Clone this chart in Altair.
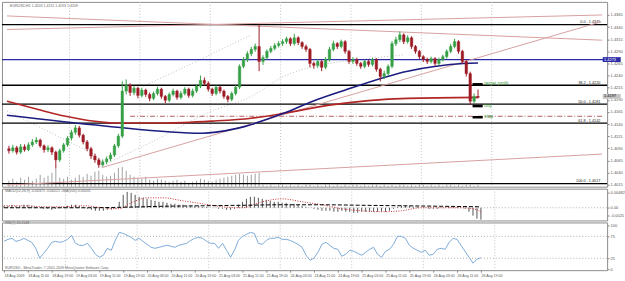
import altair as alt
import pandas as pd

# ---------------- data ----------------
first_open = 1.4089
closes = [1.4085, 1.4091, 1.4082, 1.4093, 1.4087, 1.4097, 1.4103, 1.4107, 1.4095, 1.4087,
          1.4091, 1.4082, 1.4066, 1.4085, 1.4097, 1.4111, 1.4123, 1.4132, 1.4117, 1.4103,
          1.4089, 1.4074, 1.4066, 1.4056, 1.4062, 1.4068, 1.4076, 1.4095, 1.4115, 1.4208,
          1.4220, 1.4205, 1.4214, 1.4199, 1.4210, 1.4201, 1.4193, 1.4203, 1.4212, 1.4197,
          1.4189, 1.4201, 1.4208, 1.4195, 1.4203, 1.4212, 1.4199, 1.4208, 1.4218, 1.4230,
          1.4224, 1.4212, 1.4203, 1.4216, 1.4208, 1.4197, 1.4191, 1.4203, 1.4216, 1.4259,
          1.4273, 1.4285, 1.4294, 1.4300, 1.4269, 1.4277, 1.4290, 1.4296, 1.4302, 1.4306,
          1.4310, 1.4316, 1.4306, 1.4318, 1.4308, 1.4300, 1.4294, 1.4265, 1.4261, 1.4269,
          1.4257, 1.4273, 1.4294, 1.4306, 1.4300, 1.4310, 1.4290, 1.4269, 1.4273, 1.4265,
          1.4259, 1.4269, 1.4263, 1.4273, 1.4253, 1.4238, 1.4244, 1.4259, 1.4306, 1.4314,
          1.4324, 1.4310, 1.4318, 1.4300, 1.4290, 1.4279, 1.4273, 1.4269, 1.4275, 1.4265,
          1.4273, 1.4279, 1.4290, 1.4300, 1.4310, 1.4290, 1.4269, 1.4244, 1.4187, 1.4197,
          1.4195]
highs = [1.4095, 1.4097, 1.4095, 1.4099, 1.4098, 1.4102, 1.4109, 1.4113, 1.4110, 1.4098,
         1.4096, 1.4094, 1.4085, 1.4089, 1.4101, 1.4115, 1.4128, 1.4138, 1.4136, 1.4120,
         1.4107, 1.4093, 1.4079, 1.4070, 1.4067, 1.4073, 1.4081, 1.4099, 1.4120, 1.4228,
         1.4232, 1.4224, 1.4219, 1.4217, 1.4215, 1.4213, 1.4205, 1.4207, 1.4217, 1.4215,
         1.4200, 1.4205, 1.4213, 1.4211, 1.4208, 1.4216, 1.4215, 1.4213, 1.4222, 1.4240,
         1.4236, 1.4228, 1.4215, 1.4220, 1.4219, 1.4211, 1.4200, 1.4207, 1.4220, 1.4263,
         1.4278, 1.4290, 1.4299, 1.4306, 1.4345, 1.4282, 1.4294, 1.4301, 1.4307, 1.4311,
         1.4315, 1.4320, 1.4319, 1.4326, 1.4321, 1.4311, 1.4304, 1.4297, 1.4269, 1.4274,
         1.4272, 1.4278, 1.4299, 1.4312, 1.4309, 1.4314, 1.4313, 1.4293, 1.4278, 1.4277,
         1.4268, 1.4273, 1.4272, 1.4277, 1.4276, 1.4256, 1.4250, 1.4263, 1.4311, 1.4320,
         1.4331, 1.4327, 1.4323, 1.4321, 1.4303, 1.4293, 1.4282, 1.4277, 1.4279, 1.4278,
         1.4277, 1.4283, 1.4294, 1.4305, 1.4316, 1.4313, 1.4293, 1.4272, 1.4248, 1.4203,
         1.4211]
lows = [1.4079, 1.4081, 1.4077, 1.4078, 1.4083, 1.4084, 1.4093, 1.4099, 1.4091, 1.4081,
        1.4082, 1.4076, 1.4048, 1.4062, 1.4081, 1.4093, 1.4106, 1.4118, 1.4112, 1.4098,
        1.4084, 1.4068, 1.4060, 1.4050, 1.4052, 1.4057, 1.4063, 1.4072, 1.4091, 1.4111,
        1.4201, 1.4198, 1.4200, 1.4193, 1.4195, 1.4196, 1.4187, 1.4189, 1.4199, 1.4192,
        1.4183, 1.4185, 1.4197, 1.4190, 1.4191, 1.4199, 1.4194, 1.4195, 1.4204, 1.4214,
        1.4219, 1.4207, 1.4198, 1.4199, 1.4203, 1.4192, 1.4185, 1.4187, 1.4199, 1.4212,
        1.4255, 1.4268, 1.4280, 1.4289, 1.4249, 1.4262, 1.4273, 1.4286, 1.4292, 1.4298,
        1.4301, 1.4305, 1.4301, 1.4302, 1.4303, 1.4295, 1.4289, 1.4257, 1.4254, 1.4256,
        1.4249, 1.4253, 1.4269, 1.4290, 1.4295, 1.4296, 1.4285, 1.4264, 1.4264, 1.4260,
        1.4254, 1.4255, 1.4258, 1.4259, 1.4248, 1.4228, 1.4233, 1.4240, 1.4255, 1.4301,
        1.4309, 1.4305, 1.4306, 1.4295, 1.4285, 1.4274, 1.4268, 1.4264, 1.4265, 1.4260,
        1.4261, 1.4269, 1.4275, 1.4286, 1.4296, 1.4285, 1.4264, 1.4238, 1.4179, 1.4183,
        1.4193]
volumes = [600, 800, 500, 900, 700, 1000, 600, 800, 1200, 900,
           1100, 1400, 1800, 900, 800, 1000, 700, 900, 1200, 1000,
           1300, 1100, 1500, 1600, 1200, 1000, 1100, 1400, 1900, 2000,
           1600, 1200, 1000, 900, 800, 1000, 700, 600, 800, 700,
           600, 500, 600, 700, 500, 600, 400, 500, 600, 800,
           700, 600, 500, 700, 800, 900, 1000, 1100, 1200, 1300,
           1200, 1100, 1200, 1300, 1400, 200, 100, 200, 100, 200,
           200, 100, 200, 100, 200, 100, 200, 200, 100, 200,
           100, 200, 200, 100, 200, 100, 200, 100, 200, 200,
           100, 200, 100, 200, 200, 100, 200, 100, 200, 100,
           200, 200, 100, 200, 100, 200, 200, 100, 200, 100,
           200, 100, 200, 200, 100, 200, 100, 200, 200, 100,
           200]
macd_hist = [0.00063, 0.00063, 0.00094, 0.00063, 0.00063, 0.00094, 0.00094, 0.00063, 0.00031, 0.00005,
             -0.00031, -0.00031, -0.00063, -0.00031, 0.00005,
             0.00031, 0.00063, 0.00094, 0.00094, 0.00063, 0.00031,
             -0.00031, -0.00063, -0.00094, -0.00094, -0.00094, -0.00063, -0.00063, -0.00031,
             0.00188, 0.00406, 0.00500, 0.00469, 0.00406, 0.00344, 0.00313,
             0.00281, 0.00250, 0.00219, 0.00188, 0.00188, 0.00156, 0.00125, 0.00125, 0.00094, 0.00094,
             0.00063, 0.00063, 0.00063, 0.00063,
             0.00031, 0.00031, 0.00005, 0.00005, -0.00031, -0.00031, -0.00063, -0.00063, -0.00031,
             0.00094, 0.00188, 0.00281, 0.00344, 0.00344, 0.00313, 0.00281,
             0.00250, 0.00219, 0.00188, 0.00188, 0.00156, 0.00156, 0.00125, 0.00125, 0.00094, 0.00063,
             0.00031, 0.00005, -0.00031, -0.00063, -0.00094,
             -0.00094, -0.00094, -0.00125, -0.00125, -0.00094, -0.00125, -0.00125, -0.00156, -0.00156,
             -0.00125, -0.00125, -0.00125, -0.00125, -0.00125,
             -0.00125, -0.00125, -0.00094, -0.00031, 0.00031, 0.00063,
             0.00063, 0.00063, 0.00031, 0.00031, 0.00005, 0.00005, -0.00031, -0.00031, -0.00031, 0.00005,
             0.00005, 0.00031, 0.00031, 0.00031, 0.00005, -0.00031,
             -0.00125, -0.00250, -0.00344, -0.00375]
signal_idx = [0, 5, 10, 15, 20, 25, 29, 32, 36, 40, 45, 50, 55, 60, 64, 70, 75, 80, 85, 90,
              95, 100, 105, 110, 115, 118, 120]
signal_val = [0.00063, 0.00063, 0.00031, 0.00031, 0.00063, 0.0, -0.00031, 0.00156, 0.00313, 0.00313,
              0.00219, 0.00125, 0.00031, 0.0, 0.00156, 0.00281, 0.00188, 0.00094, -0.00031, -0.00094,
              -0.00125, -0.00094, 0.0, 0.0, 0.0, -0.00031, -0.00125]
macd_ma_idx = [0, 20, 30, 40, 50, 60, 70, 80, 90, 100, 110, 120]
macd_ma_val = [0.0, 0.0, 0.00016, 0.00047, 0.00063, 0.00078, 0.00094, 0.00094, 0.00078, 0.00063, 0.00047, 0.00031]
rsi_vals = [63.6, 68.2, 70.5, 63.6, 65.9, 70.5, 65.9, 61.4, 47.7, 25.0,
            36.4, 47.7, 61.4, 63.6, 61.4, 63.6, 68.2, 77.3, 59.1, 54.5,
            54.5, 59.1, 47.7, 34.1, 27.3, 31.8, 47.7, 43.2, 65.9, 84.1,
            81.8, 77.3, 72.7, 65.9, 70.5, 63.6, 56.8, 50.0, 47.7, 50.0,
            52.3, 54.5, 52.3, 50.0, 54.5, 56.8, 59.1, 65.9, 70.5, 72.7,
            70.5, 63.6, 59.1, 59.1, 47.7, 59.1, 43.2, 27.3, 43.2, 65.9,
            75.0, 79.5, 84.1, 81.8, 59.1, 56.8, 65.9, 70.5, 70.5, 72.7,
            68.2, 68.2, 65.9, 61.4, 56.8, 50.0, 31.8, 20.5, 25.0, 38.6,
            56.8, 61.4, 54.5, 47.7, 45.5, 29.5, 34.1, 43.2, 40.9, 36.4,
            31.8, 38.6, 45.5, 50.0, 34.1, 27.3, 40.9, 45.5, 56.8, 75.0,
            75.0, 70.5, 54.5, 47.7, 43.2, 38.6, 43.2, 31.8, 34.1, 45.5,
            47.7, 45.5, 61.4, 70.5, 68.2, 54.5, 40.9, 27.3, 13.6, 22.7,
            26.3]
red_ma_idx = [-0.5, 7, 14.5, 27.75, 39.5, 52, 62, 70.25, 82, 102, 120]
red_ma_val = [1.4187, 1.4171, 1.4156, 1.4142, 1.4142, 1.4146, 1.4152, 1.4162, 1.4179, 1.4193, 1.4195]
blue_ma_idx = [-0.5, 24.5, 49.5, 57.75, 70.25, 77.75, 85.25, 102, 116.25, 120]
blue_ma_val = [1.4158, 1.4136, 1.4121, 1.4130, 1.4162, 1.4187, 1.4208, 1.4249, 1.4265, 1.4266]
dotted_names = ["L", "L", "L", "L", "L", "L", "L", "L", "U", "U", "U", "V", "V"]
dotted_idx = [22.75, 37, 52, 62, 70.25, 82, 92, 101.25, 34.5, 52, 62, -0.5, 22.75]
dotted_val = [1.4050, 1.4105, 1.4167, 1.4197, 1.4238, 1.4265, 1.4275, 1.4283,
              1.4218, 1.4285, 1.4324, 1.4167, 1.4074]
trend_names = ["A", "A", "B", "B", "C", "C", "D", "D"]
trend_idx = [-0.5, 151.75, -0.5, 151.75, 23.75, 151.5, -0.5, 151.75]
trend_val = [1.4363, 1.4313, 1.4335, 1.4365, 1.4050, 1.4351, 1.4014, 1.4078]
fib_names = ["0.0", "38.2", "50.0", "61.8", "100.0"]
fib_prices = [1.4345, 1.4220, 1.4181, 1.4142, 1.4017]
level_price = 1.4273
bid_price = 1.4197
stop_line_price = 1.4156
order_names = ["target profit", "buy", "stop"]
order_prices = [1.4222, 1.4177, 1.4154]
price_ticks = [1.4015, 1.4040, 1.4065, 1.4090, 1.4115, 1.4140, 1.4165, 1.4190,
               1.4215, 1.4240, 1.4265, 1.4290, 1.4315, 1.4340, 1.4365]
macd_ticks = [-0.0025, 0.0, 0.00482]
rsi_ticks = [0, 25, 75, 100]
date_labels = ["18 Aug 2009", "18 Aug 11:00", "18 Aug 19:00", "19 Aug 03:00", "19 Aug 11:00",
               "19 Aug 19:00", "20 Aug 03:00", "20 Aug 11:00", "20 Aug 19:00", "21 Aug 03:00",
               "21 Aug 11:00", "21 Aug 19:00", "24 Aug 03:00", "24 Aug 11:00", "24 Aug 19:00",
               "25 Aug 03:00", "25 Aug 11:00", "25 Aug 19:00", "26 Aug 03:00", "26 Aug 11:00",
               "26 Aug 19:00"]
grid_idx = [15.5, 33.5, 51.5, 69.5, 87.5, 105.5, 123.5]

# ---------------- frames ----------------
n = len(closes)
idx = list(range(n))
opens = [first_open] + closes[:-1]
bars = pd.DataFrame({"i": idx, "open": opens, "close": closes, "high": highs, "low": lows,
                     "vol": volumes, "zero": [0] * n})
bars["dir"] = ["up" if c >= o else "down" for o, c in zip(opens, closes)]

FONT = "Liberation Sans"
SMALL = 3.6
W, H_MAIN, H_MACD, H_RSI = 609, 186, 32, 48
xscale = alt.Scale(domain=[-0.5, 151.75], nice=False, zero=False)
pscale = alt.Scale(domain=[1.40107, 1.4392], nice=False, zero=False)


def X(field):
    return alt.X(field, type="quantitative", scale=xscale, axis=None)


def PY(field, axis=None):
    return alt.Y(field, type="quantitative", scale=pscale, axis=axis)


def right_axis(values, expr=None, fmt=None):
    kw = dict(orient="right", values=values, labelFontSize=4, labelFont=FONT, labelColor="#555555",
              tickSize=2, tickColor="#888888", grid=False, domain=False, title=None, labelPadding=1)
    if expr:
        kw["labelExpr"] = expr
    if fmt:
        kw["format"] = fmt
    return alt.Axis(**kw)


grid_df = pd.DataFrame({"i": grid_idx})
vgrid = alt.Chart(grid_df).mark_rule(color="#c4c4c4", strokeDash=[1, 2], strokeWidth=1).encode(x=X("i"))

vol = alt.Chart(bars).mark_rule(color="#a0a0a0", strokeWidth=1).encode(
    x=X("i"), y=alt.Y("vol:Q", scale=alt.Scale(domain=[0, 18600], nice=False), axis=None), y2="zero:Q")

fib_df = pd.DataFrame({"p": fib_prices, "lab": [f"{a} - {b:.4f}" for a, b in zip(fib_names, fib_prices)],
                       "x": [151.3] * len(fib_prices)})
fib = alt.Chart(fib_df).mark_rule(color="#000000", strokeWidth=1.3).encode(y=PY("p"))
fibtext = alt.Chart(fib_df).mark_text(align="right", baseline="bottom", dy=-0.5, fontSize=3.8,
                                      font=FONT, color="#222222").encode(x=X("x"), y=PY("p"), text="lab:N")

level = alt.Chart(pd.DataFrame({"p": [level_price]})).mark_rule(color="#2b2ba8", strokeWidth=1.2).encode(y=PY("p"))
stopline = alt.Chart(pd.DataFrame({"a": [31], "b": [151.75], "p": [stop_line_price]})).mark_rule(
    color="#b06060", strokeWidth=1, strokeDash=[5, 2, 1, 2]).encode(x=X("a"), x2="b:Q", y=PY("p"))

dotted_df = pd.DataFrame({"name": dotted_names, "i": dotted_idx, "p": dotted_val})
dotted = alt.Chart(dotted_df).mark_line(color="#c0c0c0", strokeWidth=1, strokeDash=[1, 2],
                                        interpolate="monotone", clip=True).encode(
    x=X("i"), y=PY("p"), detail="name:N")

trend_df = pd.DataFrame({"name": trend_names, "i": trend_idx, "p": trend_val})
trends = alt.Chart(trend_df).mark_line(color="#d8a0a0", strokeWidth=1, clip=True).encode(
    x=X("i"), y=PY("p"), detail="name:N")

red_ma = alt.Chart(pd.DataFrame({"i": red_ma_idx, "p": red_ma_val})).mark_line(
    color="#b22626", strokeWidth=1.6, interpolate="monotone", clip=True).encode(x=X("i"), y=PY("p"))
blue_ma = alt.Chart(pd.DataFrame({"i": blue_ma_idx, "p": blue_ma_val})).mark_line(
    color="#1c1c80", strokeWidth=1.6, interpolate="monotone", clip=True).encode(x=X("i"), y=PY("p"))

ccolor = alt.Color("dir:N", scale=alt.Scale(domain=["up", "down"], range=["#35a046", "#9e1b26"]), legend=None)
wick = alt.Chart(bars).mark_rule(strokeWidth=1).encode(x=X("i"), y=PY("low"), y2="high:Q", color=ccolor)
body = alt.Chart(bars).mark_bar(size=2.6, strokeWidth=0.4).encode(
    x=X("i"), y=PY("open", right_axis(price_ticks, fmt=".4f")), y2="close:Q", color=ccolor, stroke=ccolor)

ord_df = pd.DataFrame({"name": order_names, "p": order_prices, "a": [118.6] * 3, "b": [121.2] * 3,
                       "t": [121.6] * 3})
ord_rect = alt.Chart(ord_df).mark_rule(color="#000000", strokeWidth=2.5).encode(x=X("a"), x2="b:Q", y=PY("p"))
ord_text = alt.Chart(ord_df).mark_text(align="left", baseline="middle", fontSize=4.8, font=FONT,
                                       color="#3d9a3d").encode(x=X("t"), y=PY("p"), text="name:N")

caption = alt.Chart(pd.DataFrame({"i": [0.3], "p": [1.4388],
                                  "t": ["EURUSD,H1  1.4203 1.4211 1.4193 1.4209"]})).mark_text(
    align="left", baseline="top", fontSize=SMALL, font=FONT, color="#666666").encode(x=X("i"), y=PY("p"), text="t:N")

boxes = []
for price, fill, tcol in [(level_price, "#2b2ba8", "#ffffff"), (bid_price, "#c4c4c4", "#000000")]:
    bdf = pd.DataFrame({"a": [151.9], "b": [156.5], "t": [152.2], "lo": [price - 0.0005],
                        "hi": [price + 0.0005], "p": [price], "lab": [f"{price:.4f}"]})
    boxes.append(alt.Chart(bdf).mark_rect(color=fill, clip=False).encode(x=X("a"), x2="b:Q", y=PY("lo"), y2="hi:Q"))
    boxes.append(alt.Chart(bdf).mark_text(align="left", baseline="middle", fontSize=4, font=FONT,
                                          color=tcol, clip=False).encode(x=X("t"), y=PY("p"), text="lab:N"))

main = alt.layer(vgrid, vol, dotted, fib, fibtext, level, stopline, trends, red_ma, blue_ma, wick, body,
                 ord_rect, ord_text, caption, *boxes).resolve_scale(y="independent").properties(
    width=W, height=H_MAIN)

# ---------------- MACD ----------------
mscale = alt.Scale(domain=[-0.004, 0.006], nice=False, zero=False)
macd_df = pd.DataFrame({"i": idx, "m": macd_hist, "zero": [0.0] * n})
macd_expr = "datum.value == 0 ? '0.00' : (datum.value > 0 ? '0.00482' : '-0.0025')"
mzero = alt.Chart(pd.DataFrame({"m": [0.0]})).mark_rule(color="#b0b0b0", strokeDash=[1, 2]).encode(
    y=alt.Y("m:Q", scale=mscale, axis=None))
hist = alt.Chart(macd_df).mark_rule(color="#555555", strokeWidth=1).encode(
    x=X("i"), y=alt.Y("m:Q", scale=mscale, axis=right_axis(macd_ticks, expr=macd_expr)), y2="zero:Q")
sig = alt.Chart(pd.DataFrame({"i": signal_idx, "m": signal_val})).mark_line(
    color="#cc3333", strokeWidth=1, strokeDash=[1, 1.5], interpolate="monotone").encode(
    x=X("i"), y=alt.Y("m:Q", scale=mscale, axis=None))
mma = alt.Chart(pd.DataFrame({"i": macd_ma_idx, "m": macd_ma_val})).mark_line(
    color="#000000", strokeWidth=1, strokeDash=[4, 2], interpolate="monotone").encode(
    x=X("i"), y=alt.Y("m:Q", scale=mscale, axis=None))
mtitle = alt.Chart(pd.DataFrame({"i": [0.3], "m": [0.0058],
                                 "t": ["MACD(12,26,9) -0.00371 -0.00221  +MA(100) 0.00031"]})).mark_text(
    align="left", baseline="top", fontSize=SMALL, font=FONT, color="#666666").encode(
    x=X("i"), y=alt.Y("m:Q", scale=mscale, axis=None), text="t:N")
macd_panel = alt.layer(vgrid, mzero, hist, sig, mma, mtitle).resolve_scale(
    x="independent", y="independent").properties(width=W, height=H_MACD)

# ---------------- RSI ----------------
rscale = alt.Scale(domain=[-2.3, 106.8], nice=False, zero=False)
rsi_df = pd.DataFrame({"i": idx, "r": rsi_vals})
label_js = "[" + ",".join(f"'{s}'" for s in date_labels) + "]"
x_axis = alt.Axis(values=[6 * k for k in range(len(date_labels))],
                  labelExpr=label_js + "[round(datum.value / 6)]", labelAlign="left", labelFontSize=3.6,
                  labelFont=FONT, labelColor="#555555", tickSize=2, tickColor="#888888", domain=False,
                  grid=False, title=None, labelPadding=1, labelOverlap=False, labelFlush=False)
rlevels = alt.Chart(pd.DataFrame({"r": [25, 75]})).mark_rule(color="#b0b0b0", strokeDash=[1, 2]).encode(
    y=alt.Y("r:Q", scale=rscale, axis=None))
rline = alt.Chart(rsi_df).mark_line(color="#7eaad8", strokeWidth=1).encode(
    x=alt.X("i:Q", scale=xscale, axis=x_axis), y=alt.Y("r:Q", scale=rscale, axis=right_axis(rsi_ticks)))
rtexts = alt.Chart(pd.DataFrame({"i": [0.3, 0.3], "r": [104.5, 1.5],
                                 "t": ["RSI(7) 26.3148",
                                       "EURUSD - MetaTrader, \u00a9 2001-2009 MetaQuotes Software Corp."]})).mark_text(
    align="left", fontSize=SMALL, font=FONT, color="#666666").encode(
    x=X("i"), y=alt.Y("r:Q", scale=rscale, axis=None), text="t:N")
rsi_panel = alt.layer(vgrid, rlevels, rline, rtexts).resolve_scale(
    x="independent", y="independent").properties(width=W, height=H_RSI)

chart = alt.vconcat(main, macd_panel, rsi_panel, spacing=2, bounds="flush").properties(
    padding=0, background="#ffffff").configure_view(stroke="#8c8c8c", strokeWidth=1)

chart.save("out.html", embed_options={"renderer": "svg", "actions": False})
